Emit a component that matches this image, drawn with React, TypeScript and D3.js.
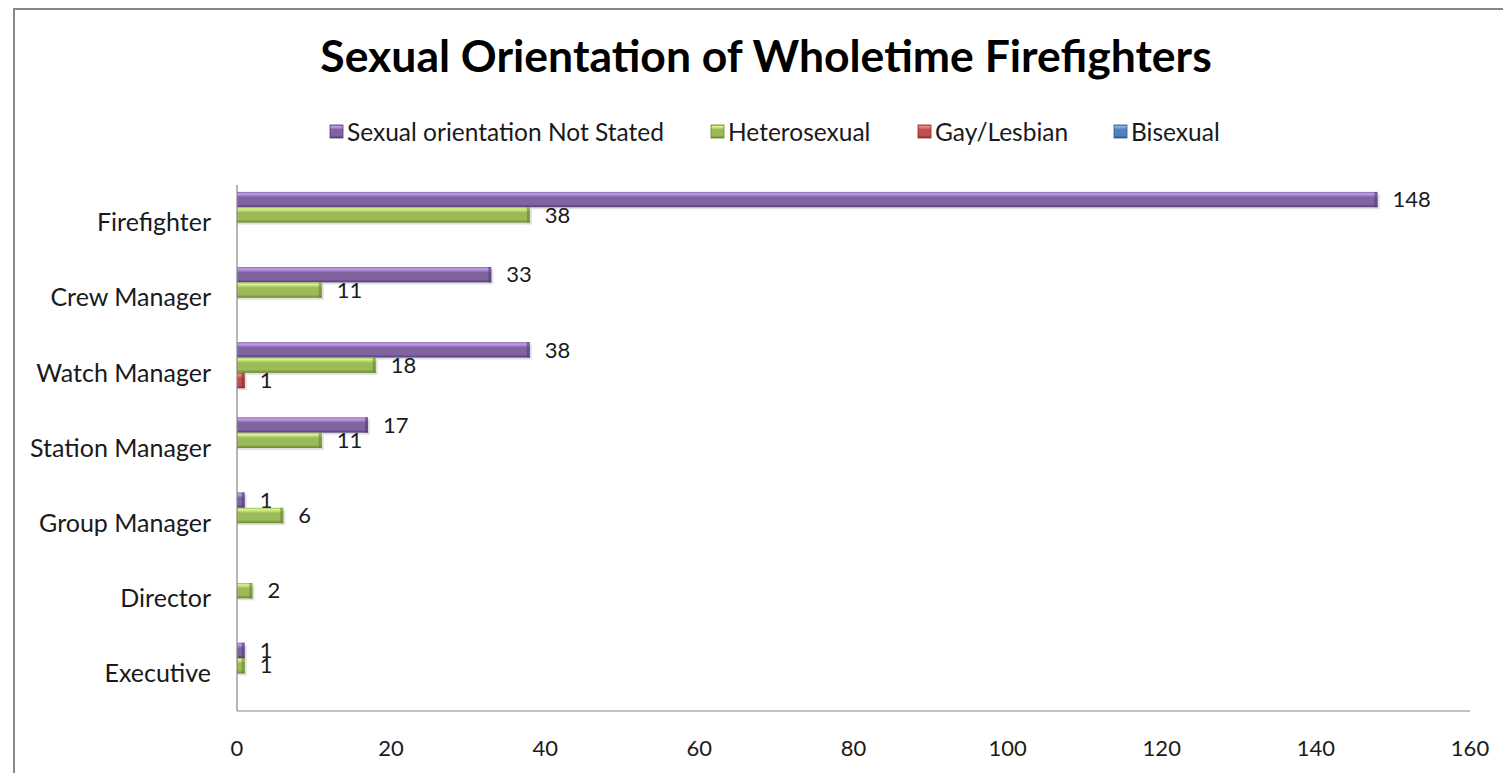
import * as d3 from 'd3';

const categories = ['Firefighter', 'Crew Manager', 'Watch Manager', 'Station Manager', 'Group Manager', 'Director', 'Executive'];
const seriesNames = ['Sexual orientation Not Stated', 'Heterosexual', 'Gay/Lesbian', 'Bisexual'];
const notStated = [148, 33, 38, 17, 1, null, 1];
const heterosexual = [38, 11, 18, 11, 6, 2, 1];
const gayLesbian = [null, null, 1, null, null, null, null];
const bisexual = [null, null, null, null, null, null, null];
const xTicks = [0, 20, 40, 60, 80, 100, 120, 140, 160];

const seriesValues = [notStated, heterosexual, gayLesbian, bisexual];
const colors = [
  { light: '#c4a0f0', mid: '#8064a2', dark: '#553a7a' },
  { light: '#dcf58f', mid: '#9bbb59', dark: '#66862a' },
  { light: '#ef8a86', mid: '#c0504d', dark: '#8c2b28' },
  { light: '#8db4ea', mid: '#4f81bd', dark: '#2c5a92' },
];

const W = 1503;
const H = 773;
const FONT = 'Lato, "Open Sans", sans-serif';

export default function App() {
  const x = d3.scaleLinear().domain([0, 160]).range([237, 1470]);
  const y = d3.scaleBand<string>().domain(categories).range([185, 711]);
  const inner = d3.scaleBand<string>().domain(seriesNames).range([0, y.bandwidth()]).paddingOuter(0.45).paddingInner(0);
  const legendX = [330, 711, 918, 1114];

  return (
    <svg width={W} height={H} style={{ position: 'absolute', left: 0, top: 0, background: '#fff' }} fontFamily={FONT}>
      <defs>
        {colors.map((c, i) => (
          <linearGradient key={i} id={`g${i}`} x1="0" y1="0" x2="0" y2="1">
            <stop offset="0" stopColor={c.mid} />
            <stop offset="0.12" stopColor={c.light} />
            <stop offset="0.35" stopColor={c.mid} />
            <stop offset="0.8" stopColor={c.mid} />
            <stop offset="1" stopColor={c.dark} />
          </linearGradient>
        ))}
      </defs>
      <rect x={14} y={9} width={W + 10} height={H + 10} fill="#fff" stroke="#878787" strokeWidth={2} />
      <text x={766} y={72} textAnchor="middle" fontSize={44.5} fontWeight="bold" fill="#000">
        Sexual Orientation of Wholetime Firefighters
      </text>
      {seriesNames.map((s, i) => (
        <g key={s} transform={`translate(${legendX[i]},132)`}>
          <rect x={0} y={-7} width={13} height={13} fill={`url(#g${i})`} stroke={colors[i].dark} strokeWidth={0.8} />
          <text x={17} y={0} dy="0.35em" fontSize={24.5} fill="#1a1a1a">{s}</text>
        </g>
      ))}
      {categories.map((c, ci) => (
        <g key={c}>
          <text x={211} y={y(c)! + y.bandwidth() / 2} dy="0.35em" textAnchor="end" fontSize={25} fill="#1a1a1a">{c}</text>
          {seriesNames.map((s, si) => {
            const v = seriesValues[si][ci];
            if (v == null) return null;
            const top = y(c)! + inner(s)!;
            const h = inner.bandwidth();
            const x1 = x(v);
            return (
              <g key={s}>
                <rect x={x(0)} y={top + 2} width={x1 - x(0) + 2} height={h} fill="#000" opacity={0.12} />
                <rect x={x(0)} y={top} width={x1 - x(0)} height={h} fill={`url(#g${si})`} />
                <rect x={x1 - 3} y={top} width={3} height={h} fill={colors[si].dark} opacity={0.6} />
                <text x={x1 + 15} y={top + h / 2} dy="0.35em" fontSize={22} fill="#1a1a1a">{v}</text>
              </g>
            );
          })}
        </g>
      ))}
      <line x1={x(0)} x2={x(0)} y1={185} y2={711} stroke="#868686" strokeWidth={1.2} />
      <line x1={x(0)} x2={x(160)} y1={711} y2={711} stroke="#868686" strokeWidth={1.2} />
      {xTicks.map(t => (
        <text key={t} x={x(t)} y={748} dy="0.35em" textAnchor="middle" fontSize={22} fill="#1a1a1a">{t}</text>
      ))}
    </svg>
  );
}
